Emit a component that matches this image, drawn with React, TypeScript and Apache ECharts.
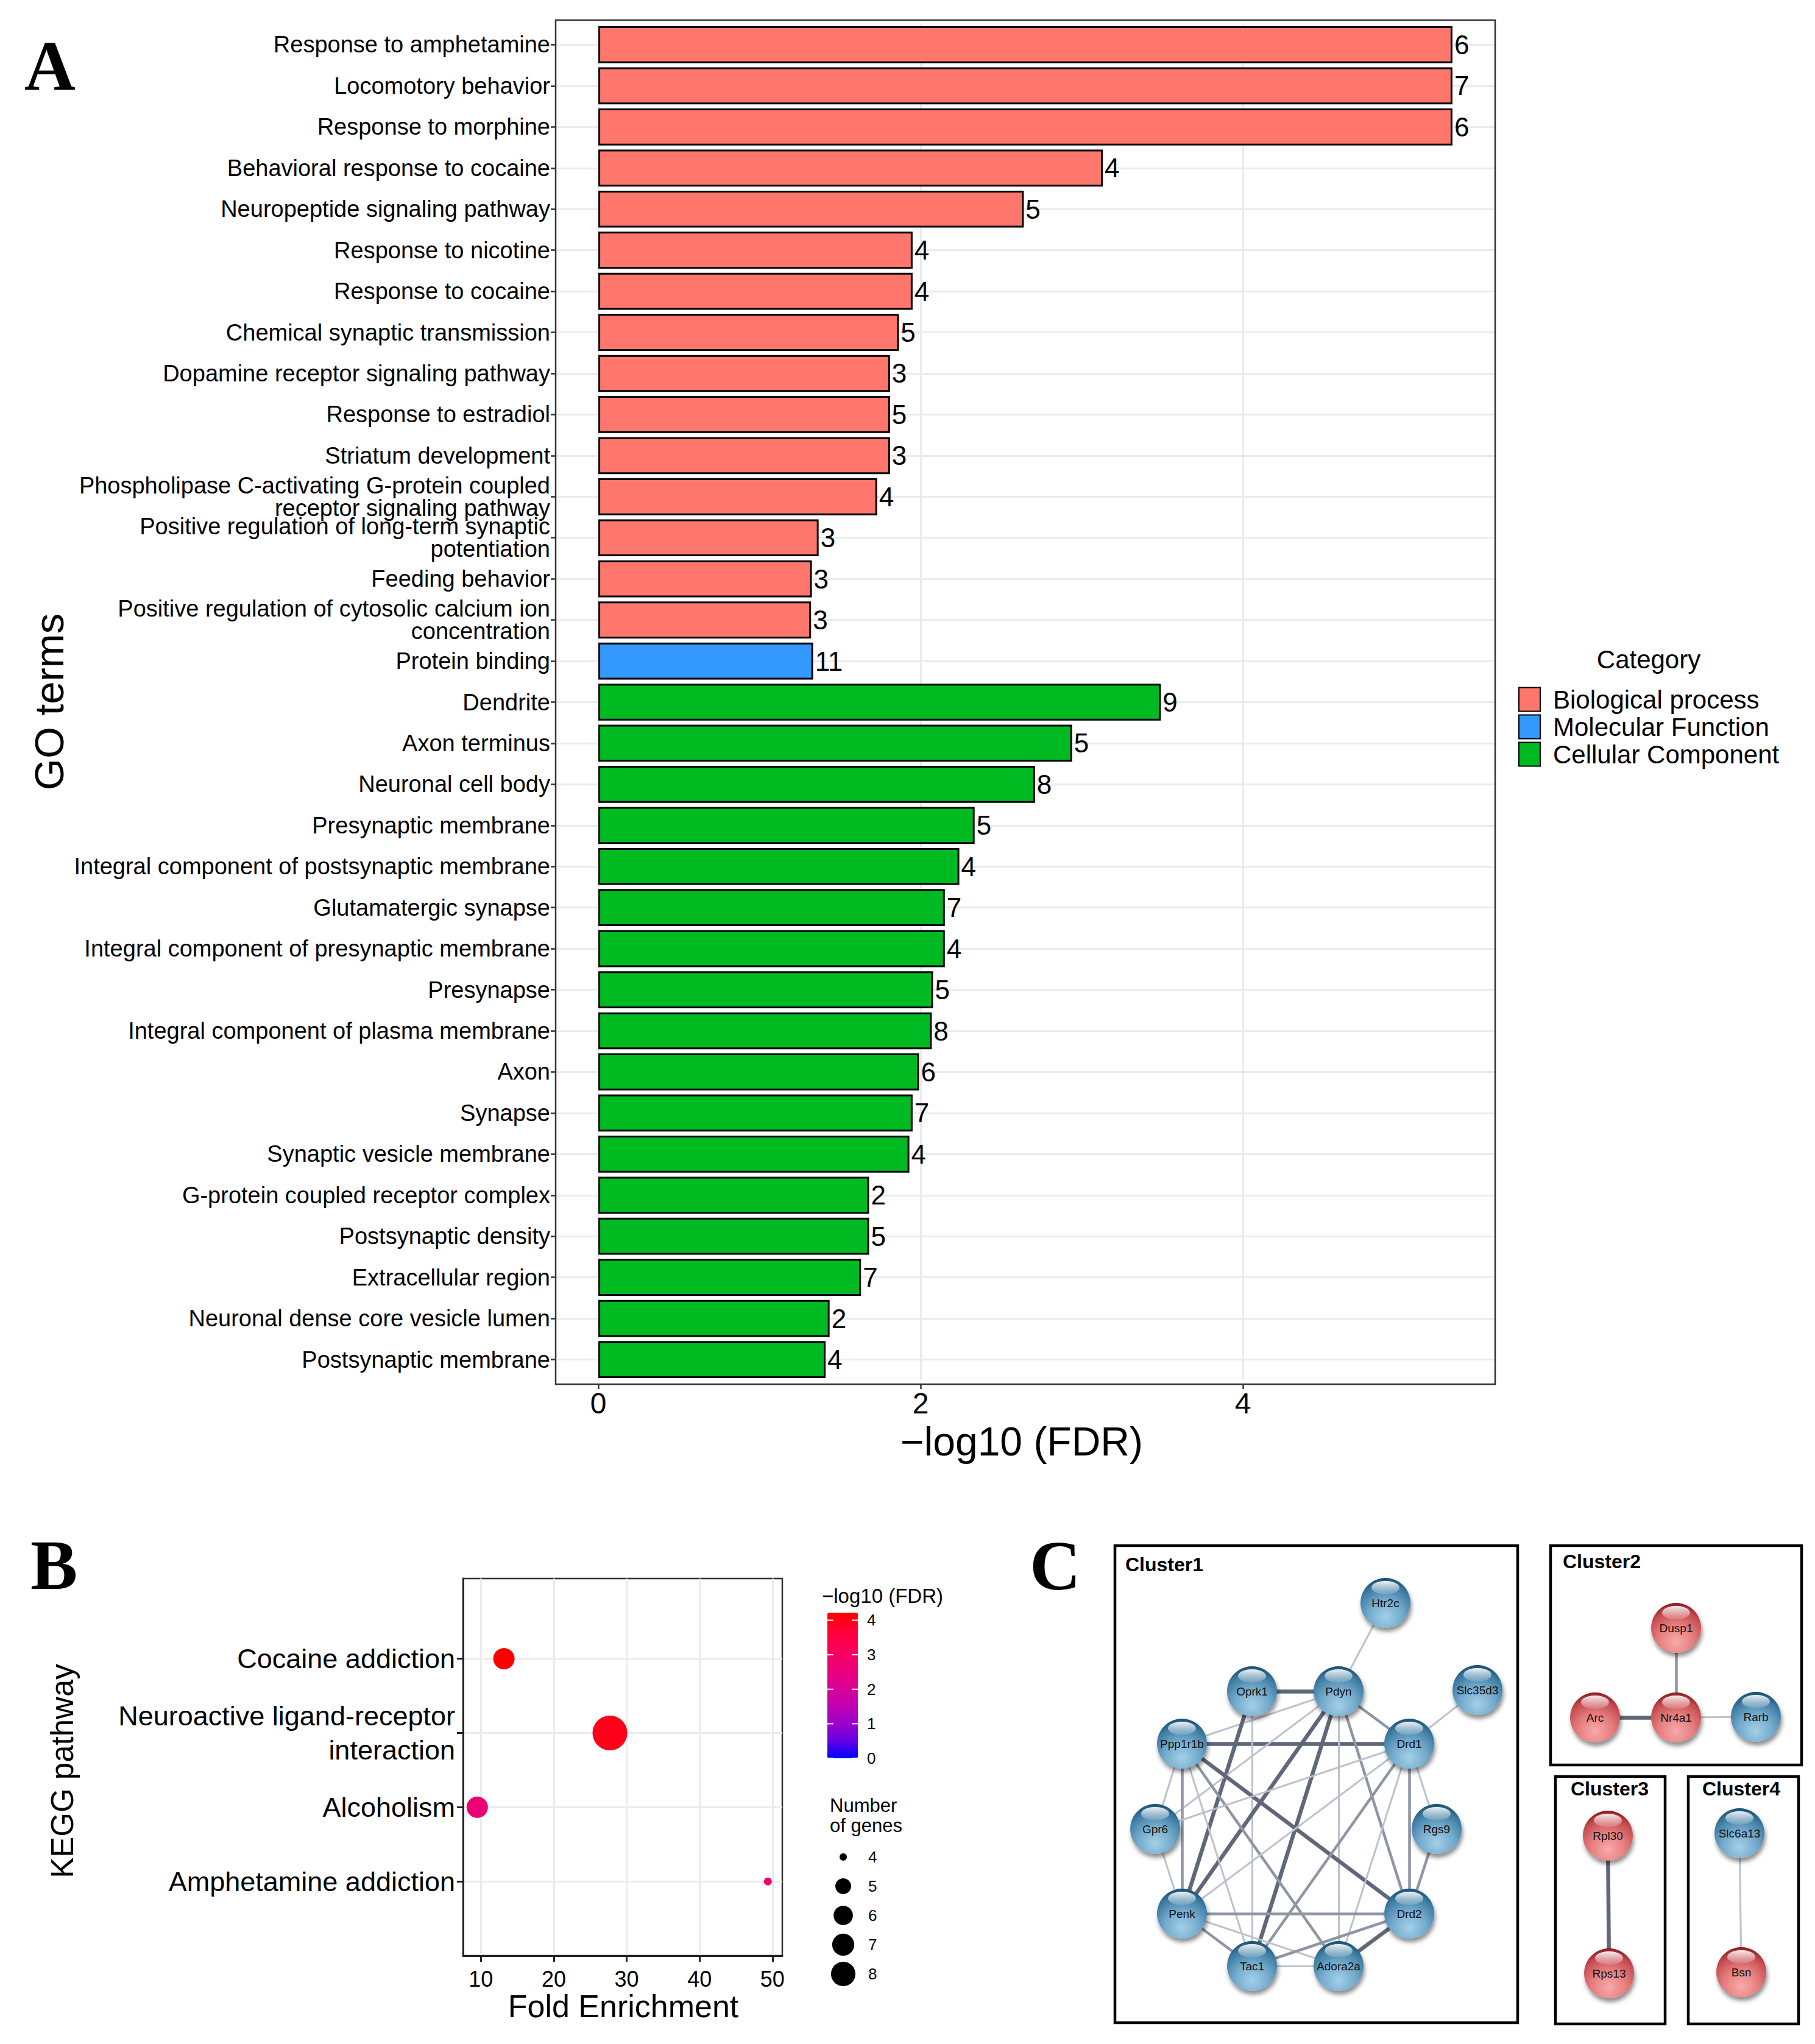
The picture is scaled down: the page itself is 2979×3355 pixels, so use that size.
import React, { useEffect, useRef } from "react";
import * as echarts from "echarts";

// ---------------- Panel A data ----------------
const goTerms = [
  "Response to amphetamine",
  "Locomotory behavior",
  "Response to morphine",
  "Behavioral response to cocaine",
  "Neuropeptide signaling pathway",
  "Response to nicotine",
  "Response to cocaine",
  "Chemical synaptic transmission",
  "Dopamine receptor signaling pathway",
  "Response to estradiol",
  "Striatum development",
  "Phospholipase C-activating G-protein coupled\nreceptor signaling pathway",
  "Positive regulation of long-term synaptic\npotentiation",
  "Feeding behavior",
  "Positive regulation of cytosolic calcium ion\nconcentration",
  "Protein binding",
  "Dendrite",
  "Axon terminus",
  "Neuronal cell body",
  "Presynaptic membrane",
  "Integral component of postsynaptic membrane",
  "Glutamatergic synapse",
  "Integral component of presynaptic membrane",
  "Presynapse",
  "Integral component of plasma membrane",
  "Axon",
  "Synapse",
  "Synaptic vesicle membrane",
  "G-protein coupled receptor complex",
  "Postsynaptic density",
  "Extracellular region",
  "Neuronal dense core vesicle lumen",
  "Postsynaptic membrane",
];
const goCategory = [
  "BP", "BP", "BP", "BP", "BP", "BP", "BP", "BP", "BP", "BP", "BP", "BP", "BP", "BP", "BP",
  "MF",
  "CC", "CC", "CC", "CC", "CC", "CC", "CC", "CC", "CC", "CC", "CC", "CC", "CC", "CC", "CC", "CC", "CC",
];
const goLog10FDR = [
  5.3, 5.3, 5.3, 3.13, 2.64, 1.95, 1.95, 1.865, 1.81, 1.81, 1.81, 1.73, 1.367, 1.325, 1.32,
  1.333,
  3.49, 2.94, 2.71, 2.335, 2.24, 2.15, 2.15, 2.077, 2.069, 1.99, 1.95, 1.93, 1.68, 1.68, 1.63, 1.435, 1.41,
];
const goGeneCount = [
  6, 7, 6, 4, 5, 4, 4, 5, 3, 5, 3, 4, 3, 3, 3,
  11,
  9, 5, 8, 5, 4, 7, 4, 5, 8, 6, 7, 4, 2, 5, 7, 2, 4,
];
const categoryKeys = ["BP", "MF", "CC"];
const categoryNames = ["Biological process", "Molecular Function", "Cellular Component"];
const categoryColors = ["#FF766C", "#3399FF", "#00BA22"];
const goXTicks = [0, 2, 4];

// ---------------- Panel B data ----------------
const keggPathways = [
  "Cocaine addiction",
  "Neuroactive ligand-receptor\ninteraction",
  "Alcoholism",
  "Amphetamine addiction",
];
const keggFoldEnrichment = [13.16, 27.7, 9.5, 49.37];
const keggLog10FDR = [4.22, 3.97, 2.65, 2.8];
const keggGeneCount = [5, 8, 5, 4];
const keggXTicks = [10, 20, 30, 40, 50];
const fdrColorTicks = [0, 1, 2, 3, 4];
const geneSizeBreaks = [4, 5, 6, 7, 8];

// ---------------- Panel C data (network layout, panel units) ----------------
const netNodeNames = [
  "Htr2c", "Oprk1", "Pdyn", "Slc35d3", "Ppp1r1b", "Drd1", "Gpr6", "Rgs9", "Penk", "Drd2", "Tac1", "Adora2a",
  "Dusp1", "Arc", "Nr4a1", "Rarb",
  "Rpl30", "Rps13",
  "Slc6a13", "Bsn",
];
const netNodeX = [444, 225, 367, 595, 110, 483, 66, 528, 110, 483, 225, 367, 921, 788, 921, 1052, 809, 811, 1025, 1028];
const netNodeY = [95, 240, 240, 238, 326, 326, 466, 466, 605, 605, 691, 691, 136, 283, 283, 282, 477, 703, 473, 701];
const netNodeTone = [
  "b", "b", "b", "b", "b", "b", "b", "b", "b", "b", "b", "b",
  "r", "r", "r", "b",
  "r", "r",
  "b", "r",
];
const netEdgeSource = [
  "Htr2c", "Oprk1", "Slc35d3", "Ppp1r1b", "Ppp1r1b", "Pdyn", "Oprk1", "Oprk1", "Pdyn", "Pdyn", "Pdyn", "Pdyn",
  "Pdyn", "Ppp1r1b", "Ppp1r1b", "Ppp1r1b", "Ppp1r1b", "Ppp1r1b", "Drd1", "Drd1", "Drd1", "Drd1", "Drd1", "Drd1",
  "Rgs9", "Gpr6", "Penk", "Penk", "Penk", "Tac1", "Tac1", "Adora2a",
  "Dusp1", "Arc", "Nr4a1", "Rpl30", "Slc6a13",
];
const netEdgeTarget = [
  "Pdyn", "Pdyn", "Drd1", "Drd1", "Pdyn", "Drd1", "Penk", "Tac1", "Penk", "Tac1", "Adora2a", "Drd2",
  "Gpr6", "Gpr6", "Penk", "Tac1", "Adora2a", "Drd2", "Rgs9", "Drd2", "Penk", "Tac1", "Adora2a", "Gpr6",
  "Drd2", "Penk", "Drd2", "Tac1", "Adora2a", "Adora2a", "Drd2", "Drd2",
  "Nr4a1", "Nr4a1", "Rarb", "Rps13", "Bsn",
];
const netEdgeWeight = [
  1, 3, 1, 3, 1, 2, 3, 1, 3, 3, 1, 2,
  1, 1, 2, 1, 2, 3, 1, 2, 1, 2, 1, 1,
  2, 1, 2, 2, 1, 1, 2, 3,
  2, 3, 1, 3, 1,
];
const clusterTitles = ["Cluster1", "Cluster2", "Cluster3", "Cluster4"];

// ---------------- layout constants ----------------
const FONT = "Liberation Sans, Arial, Helvetica, sans-serif";
const SERIF = "Liberation Serif, Times New Roman, serif";
const PA = { x0: 912, x1: 2454, y0: 33, y1: 2272 };
const aBand = (PA.y1 - PA.y0) / (goTerms.length - 1 + 1.2);
const aGridTop = PA.y0 + 0.1 * aBand;
const aGridH = goTerms.length * aBand;
const PB = { x0: 760, x1: 1284, y0: 2591, y1: 3210 };
const PC = { x0: 1830, y0: 2536, w: 1130, h: 786 };
const cbar = { x: 1358, y: 2647, w: 50, h: 239, max: 4.22 };
const clusterBoxes = [
  [1830, 2537, 2491, 3320],
  [2545, 2537, 2957, 2897],
  [2553, 2916, 2733, 3322],
  [2771, 2916, 2952, 3322],
];
const clusterTitlePos = [
  [1847, 2568],
  [2565, 2563],
  [2578, 2936],
  [2794, 2936],
];

const pointDiameter = (n: number) => 13 + 44 * Math.sqrt((n - 4) / 4);
const legendDiameter = (n: number) => 12 + 28 * Math.sqrt((n - 4) / 4);

const blueSphere = {
  type: "radial", x: 0.5, y: 0.78, r: 0.78,
  colorStops: [
    { offset: 0, color: "#A3D0EA" },
    { offset: 0.45, color: "#72A9CB" },
    { offset: 0.8, color: "#3C7BA1" },
    { offset: 1, color: "#18506F" },
  ],
};
const redSphere = {
  type: "radial", x: 0.5, y: 0.78, r: 0.78,
  colorStops: [
    { offset: 0, color: "#F8AAAA" },
    { offset: 0.45, color: "#E57D7D" },
    { offset: 0.8, color: "#C54B4F" },
    { offset: 1, color: "#8A1B22" },
  ],
};
const edgeStyle = (w: number) =>
  w >= 3 ? { color: "#5F6779", width: 6.5 } : w >= 2 ? { color: "#8E95A4", width: 4.5 } : { color: "#BCC1CB", width: 3 };

function buildOption() {
  const barSeries = categoryKeys.map((key, k) => ({
    type: "bar",
    name: categoryNames[k],
    xAxisIndex: 0,
    yAxisIndex: 0,
    stack: "go",
    barCategoryGap: "10%",
    data: goLog10FDR.map((v, i) => (goCategory[i] === key ? v : "-")),
    itemStyle: { color: categoryColors[k], borderColor: "#000", borderWidth: 3 },
    label: {
      show: true,
      position: "right",
      distance: 3,
      fontSize: 44,
      color: "#000",
      fontFamily: FONT,
      formatter: (p: any) => String(goGeneCount[p.dataIndex]),
    },
    emphasis: { disabled: true },
  }));

  const keggData = keggPathways.map((_, i) => [keggFoldEnrichment[i], i + 1, keggLog10FDR[i], keggGeneCount[i]]);

  const nodes = netNodeNames.map((name, i) => ({
    name,
    value: [netNodeX[i], netNodeY[i]],
    itemStyle: {
      color: netNodeTone[i] === "b" ? blueSphere : redSphere,
      shadowColor: "rgba(0,0,0,0.45)",
      shadowBlur: 7,
      shadowOffsetX: 2,
      shadowOffsetY: 6,
    },
  }));
  const links = netEdgeSource.map((s, i) => ({
    source: s,
    target: netEdgeTarget[i],
    lineStyle: { ...edgeStyle(netEdgeWeight[i]), opacity: 1, curveness: 0 },
  }));

  const graphic: any[] = [];
  // panel letters
  graphic.push({ type: "text", x: 40, y: 108, style: { text: "A", fontFamily: SERIF, fontWeight: "bold", fontSize: 116, fill: "#000", align: "left", verticalAlign: "middle" } });
  graphic.push({ type: "text", x: 50, y: 2569, style: { text: "B", fontFamily: SERIF, fontWeight: "bold", fontSize: 116, fill: "#000", align: "left", verticalAlign: "middle" } });
  graphic.push({ type: "text", x: 1690, y: 2570, style: { text: "C", fontFamily: SERIF, fontWeight: "bold", fontSize: 116, fill: "#000", align: "left", verticalAlign: "middle" } });
  // panel A frame and titles
  graphic.push({ type: "rect", z: 50, shape: { x: PA.x0, y: PA.y0, width: PA.x1 - PA.x0, height: PA.y1 - PA.y0 }, style: { fill: "none", stroke: "#333", lineWidth: 2.5 } });
  graphic.push({ type: "text", x: 1677, y: 2366, style: { text: "\u2212log10 (FDR)", fontFamily: FONT, fontSize: 66, fill: "#000", align: "center", verticalAlign: "middle" } });
  graphic.push({ type: "text", x: 80, y: 1152, rotation: Math.PI / 2, style: { text: "GO terms", fontFamily: FONT, fontSize: 67, fill: "#000", align: "center", verticalAlign: "middle" } });
  graphic.push({ type: "text", x: 2706, y: 1082, style: { text: "Category", fontFamily: FONT, fontSize: 42, fill: "#000", align: "center", verticalAlign: "middle" } });
  // panel B titles
  graphic.push({ type: "text", x: 1023, y: 3293, style: { text: "Fold Enrichment", fontFamily: FONT, fontSize: 52, fill: "#000", align: "center", verticalAlign: "middle" } });
  graphic.push({ type: "text", x: 102, y: 2907, rotation: Math.PI / 2, style: { text: "KEGG pathway", fontFamily: FONT, fontSize: 51, fill: "#000", align: "center", verticalAlign: "middle" } });
  graphic.push({ type: "text", x: 1349, y: 2619, style: { text: "\u2212log10 (FDR)", fontFamily: FONT, fontSize: 33, fill: "#000", align: "left", verticalAlign: "middle" } });
  // colorbar ticks and labels
  fdrColorTicks.forEach((v) => {
    const y = cbar.y + cbar.h * (1 - v / cbar.max);
    graphic.push({ type: "line", z: 100, shape: { x1: cbar.x, y1: y, x2: cbar.x + 10, y2: y }, style: { stroke: "#fff", lineWidth: 2 } });
    graphic.push({ type: "line", z: 100, shape: { x1: cbar.x + cbar.w - 10, y1: y, x2: cbar.x + cbar.w, y2: y }, style: { stroke: "#fff", lineWidth: 2 } });
    graphic.push({ type: "text", x: 1423, y, style: { text: String(v), fontFamily: FONT, fontSize: 26, fill: "#000", align: "left", verticalAlign: "middle" } });
  });
  // size legend
  graphic.push({ type: "text", x: 1362, y: 2980, style: { text: "Number\nof genes", fontFamily: FONT, fontSize: 31, lineHeight: 33, fill: "#000", align: "left", verticalAlign: "middle" } });
  geneSizeBreaks.forEach((n, i) => {
    const y = 3048 + i * 48;
    graphic.push({ type: "circle", shape: { cx: 1384, cy: y, r: legendDiameter(n) / 2 }, style: { fill: "#000" } });
    graphic.push({ type: "text", x: 1425, y, style: { text: String(n), fontFamily: FONT, fontSize: 26, fill: "#000", align: "left", verticalAlign: "middle" } });
  });
  // panel C boxes
  clusterBoxes.forEach((b, i) => {
    graphic.push({ type: "rect", z: 1, shape: { x: b[0], y: b[1], width: b[2] - b[0], height: b[3] - b[1] }, style: { fill: "none", stroke: "#000", lineWidth: 4.5 } });
    graphic.push({ type: "text", x: clusterTitlePos[i][0], y: clusterTitlePos[i][1], style: { text: clusterTitles[i], fontFamily: FONT, fontWeight: "bold", fontSize: 32, fill: "#000", align: "left", verticalAlign: "middle" } });
  });

  return {
    animation: false,
    backgroundColor: "#fff",
    textStyle: { fontFamily: FONT },
    legend: {
      orient: "vertical",
      left: 2492,
      top: 1127,
      itemWidth: 35,
      itemHeight: 39,
      itemGap: 3,
      padding: 0,
      icon: "rect",
      selectedMode: false,
      data: categoryNames,
      textStyle: { fontSize: 42, color: "#000", fontFamily: FONT, lineHeight: 39, padding: [0, 0, 0, 16] },
    },
    visualMap: [
      {
        type: "continuous",
        seriesIndex: 3,
        dimension: 2,
        min: 0,
        max: cbar.max,
        left: cbar.x,
        top: cbar.y,
        itemWidth: cbar.w,
        itemHeight: cbar.h,
        padding: 0,
        calculable: false,
        hoverLink: false,
        orient: "vertical",
        text: null,
        inRange: {
          color: ["#0000FF", "#6A00E0", "#A000C8", "#C400AE", "#DC0092", "#EE0076", "#FA005A", "#FF0036", "#FF0000"],
        },
      },
    ],
    grid: [
      { left: PA.x0, top: aGridTop, width: PA.x1 - PA.x0, height: aGridH, show: false, containLabel: false, outerBoundsMode: "none" },
      { left: PB.x0, top: PB.y0, width: PB.x1 - PB.x0, height: PB.y1 - PB.y0, show: true, borderColor: "#333", borderWidth: 2.5, backgroundColor: "transparent", containLabel: false, outerBoundsMode: "none" },
      { left: PC.x0, top: PC.y0, width: PC.w, height: PC.h, show: false, containLabel: false, outerBoundsMode: "none" },
    ],
    xAxis: [
      {
        gridIndex: 0,
        type: "value",
        min: -0.265,
        max: 5.565,
        position: "bottom",
        offset: PA.y1 - (aGridTop + aGridH),
        axisLine: { show: false, onZero: false },
        axisTick: { show: true, customValues: goXTicks, length: 8, lineStyle: { color: "#333", width: 2.5 } },
        axisLabel: { customValues: goXTicks, fontSize: 48, color: "#000", margin: 7, fontFamily: FONT },
        splitLine: { show: true, lineStyle: { color: "#EBEBEB", width: 3 } },
      },
      {
        gridIndex: 1,
        type: "value",
        min: 7.55,
        max: 51.35,
        position: "bottom",
        axisLine: { show: true, onZero: false, lineStyle: { color: "#222", width: 3 } },
        axisTick: { show: true, customValues: keggXTicks, length: 10, lineStyle: { color: "#222", width: 3 } },
        axisLabel: { customValues: keggXTicks, fontSize: 36, color: "#000", margin: 20, fontFamily: FONT },
        splitLine: { show: true, lineStyle: { color: "#EBEBEB", width: 3 } },
      },
      { gridIndex: 2, type: "value", min: 0, max: PC.w, show: false, axisLine: { onZero: false } },
    ],
    yAxis: [
      {
        gridIndex: 0,
        type: "category",
        data: goTerms,
        inverse: true,
        position: "left",
        axisLine: { show: false, onZero: false },
        axisTick: { show: true, alignWithLabel: true, interval: 0, length: 8, lineStyle: { color: "#333", width: 2.5 } },
        axisLabel: { interval: 0, fontSize: 38, lineHeight: 37, color: "#000", margin: 9, fontFamily: FONT },
        splitLine: { show: false },
      },
      {
        gridIndex: 0,
        type: "value",
        inverse: true,
        min: -0.5,
        max: goTerms.length - 0.5,
        position: "right",
        axisLine: { show: false, onZero: false },
        axisTick: { show: false, customValues: goTerms.map((_, i) => i) },
        axisLabel: { show: false },
        splitLine: { show: true, lineStyle: { color: "#EBEBEB", width: 3 } },
      },
      {
        gridIndex: 1,
        type: "value",
        inverse: true,
        min: -0.08,
        max: 5,
        position: "left",
        axisLine: { show: true, onZero: false, lineStyle: { color: "#222", width: 3 } },
        axisTick: { show: true, customValues: [1, 2, 3, 4], length: 10, lineStyle: { color: "#222", width: 3 } },
        axisLabel: {
          customValues: [1, 2, 3, 4],
          formatter: (v: number) => keggPathways[Math.round(v) - 1] || "",
          fontSize: 45,
          lineHeight: 56,
          color: "#000",
          margin: 13,
          align: "right",
          fontFamily: FONT,
        },
        splitLine: { show: true, lineStyle: { color: "#EBEBEB", width: 3 } },
      },
      { gridIndex: 2, type: "value", min: 0, max: PC.h, inverse: true, show: false, axisLine: { onZero: false } },
    ],
    series: [
      ...barSeries,
      {
        type: "scatter",
        name: "KEGG",
        xAxisIndex: 1,
        yAxisIndex: 2,
        data: keggData,
        symbol: "circle",
        symbolSize: (v: number[]) => pointDiameter(v[3]),
        itemStyle: { opacity: 1 },
        clip: false,
        z: 5,
        emphasis: { disabled: true },
      },
      {
        type: "graph",
        name: "PPI",
        coordinateSystem: "cartesian2d",
        xAxisIndex: 2,
        yAxisIndex: 3,
        layout: "none",
        symbol: "circle",
        symbolSize: 82,
        data: nodes,
        links,
        roam: false,
        label: { show: true, position: "inside", fontSize: 19, color: "#111", fontFamily: FONT },
        edgeSymbol: ["none", "none"],
        emphasis: { disabled: true },
        z: 3,
      },
      {
        type: "scatter",
        name: "highlight",
        xAxisIndex: 2,
        yAxisIndex: 3,
        data: netNodeNames.map((_, i) => [netNodeX[i], netNodeY[i]]),
        symbol: "circle",
        symbolSize: [46, 22],
        symbolOffset: [0, -25],
        silent: true,
        z: 8,
        itemStyle: {
          opacity: 1,
          color: {
            type: "linear", x: 0, y: 0, x2: 0, y2: 1,
            colorStops: [
              { offset: 0, color: "rgba(255,255,255,0.92)" },
              { offset: 1, color: "rgba(255,255,255,0.12)" },
            ],
          },
        },
        emphasis: { disabled: true },
      },
    ],
    graphic,
  };
}

export default function App() {
  const ref = useRef<HTMLDivElement>(null);
  useEffect(() => {
    const el = ref.current;
    if (!el) return;
    const chart = echarts.init(el, null, { renderer: "svg" });
    chart.setOption(buildOption() as any);
    return () => chart.dispose();
  }, []);
  return (
    <div
      ref={ref}
      style={{ position: "absolute", left: 0, top: 0, width: 2979, height: 3355, background: "#fff" }}
    />
  );
}
